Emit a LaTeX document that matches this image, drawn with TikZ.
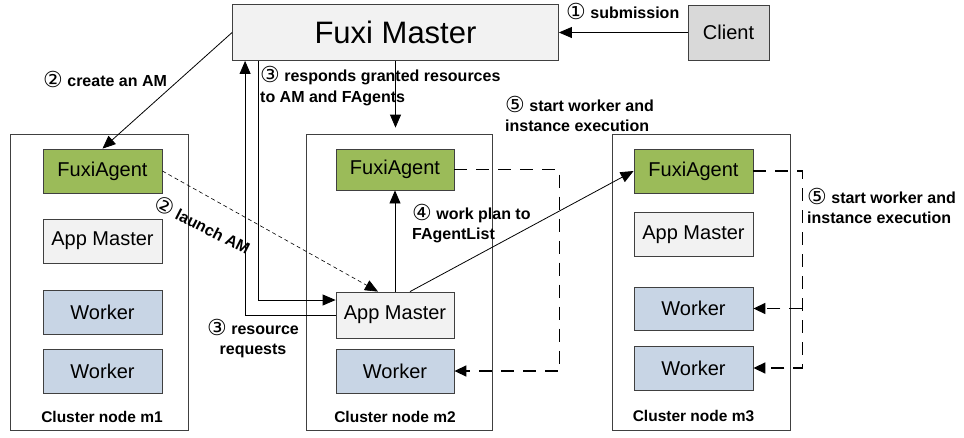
\documentclass[tikz,border=0pt]{standalone}
\usepackage{fontspec}
\setmainfont{Liberation Sans}
\newfontfamily\circfont{DejaVu Sans}
\usepackage{tikz}
\usetikzlibrary{positioning,calc,arrows.meta}

\definecolor{agentgreen}{HTML}{9BBB59}
\definecolor{workerblue}{HTML}{C8D5E5}
\definecolor{amgray}{HTML}{F2F2F2}
\definecolor{clientgray}{HTML}{D9D9D9}
\definecolor{edgegray}{HTML}{404040}

\newcommand{\cnum}[1]{\smash{\raisebox{-1pt}{\circfont\mdseries\fontsize{22}{20}\selectfont #1}}}

\begin{document}
\begin{tikzpicture}[x=1pt, y=-1pt,
        boxnode/.style={rectangle, draw=edgegray, line width=0.8pt, minimum width=119pt, minimum height=44pt, inner sep=0pt, font=\fontsize{20}{20}\selectfont},
        agentnode/.style={boxnode, fill=agentgreen},
        amnode/.style={boxnode, fill=amgray},
        workernode/.style={boxnode, fill=workerblue},
        clusternode/.style={rectangle, draw=edgegray, line width=0.8pt, minimum width=178pt, minimum height=296pt, inner sep=0pt},
        masternode/.style={rectangle, draw=edgegray, line width=0.8pt, fill=amgray, minimum width=326pt, minimum height=56pt, font=\fontsize{31}{31}\selectfont},
        clientnode/.style={rectangle, draw=edgegray, line width=0.8pt, fill=clientgray, minimum width=81pt, minimum height=55pt, font=\fontsize{20}{20}\selectfont},
        stepnote/.style={font=\bfseries\fontsize{16}{20.5}\selectfont, inner sep=0pt, align=left},
        clusterlabel/.style={font=\bfseries\fontsize{15.5}{15.5}\selectfont, inner sep=0pt},
        arr/.style={line width=0.8pt, -{Triangle[length=13pt, width=11pt]}},
        thindash/.style={arr, dash pattern=on 4pt off 3pt},
        thickdash/.style={line width=1.5pt, dash pattern=on 13pt off 9pt, -{Triangle[length=12pt, width=11pt]}},
    ]
    \useasboundingbox (0,0) rectangle (964,437);

    % Nodes
    \node[masternode] (master) at (395.5,32.5) {Fuxi Master};
    \node[clientnode] (client) at (728.5,32.5) {Client};

    \node[clusternode] (m1) at (99,282) {};
    \node[clusternode, minimum width=186pt] (m2) at (399,282) {};
    \node[clusternode] (m3) at (701,282) {};

    \node[agentnode] (fa1) at (102.5,171) {FuxiAgent};
    \node[amnode] (am1) at (102.5,241) {App Master};
    \node[workernode] (w11) at (102.5,312) {Worker};
    \node[workernode] (w12) at (102.5,371) {Worker};
    \node[clusterlabel] (l1) at (102,417) {Cluster node m1};

    \node[agentnode, minimum width=118pt, minimum height=41pt] (fa2) at (395,169.5) {FuxiAgent};
    \node[amnode, minimum width=118pt, minimum height=46pt] (am2) at (395,315) {App Master};
    \node[workernode, minimum width=118pt] (w2) at (395,371) {Worker};
    \node[clusterlabel] (l2) at (395,417) {Cluster node m2};

    \node[agentnode] (fa3) at (693.5,171) {FuxiAgent};
    \node[amnode] (am3) at (693.5,234.5) {App Master};
    \node[workernode, minimum height=43pt] (w31) at (693.5,308.5) {Worker};
    \node[workernode] (w32) at (693.5,368) {Worker};
    \node[clusterlabel] (l3) at (693.5,416) {Cluster node m3};

    % Edges
    \draw[arr] (client.west) -- (master.east);
    \draw[arr] (master.west) -- (fa1.north);
    \draw[arr] (am2.west) -| ($(master.south west)+(13,0)$);
    \draw[arr] ($(master.south west)+(26,0)$) |- ($(am2.west)+(0,-15)$);
    \draw[arr, shorten >=6pt] (master.south) -- (master.south |- m2.north);
    \draw[thindash, line width=0.6pt] (fa1.east) -- ($(am2.north)+(-17,0)$);
    \draw[arr] (am2.north) -- (fa2.south);
    \draw[arr] ($(am2.north)+(15,0)$) -- (fa3.west);

    \draw[thickdash] (fa2.east) -| ($(w2.east)+(105,0)$) -- (w2.east);
    \draw[thickdash] (fa3.east) -| ($(w32.east)+(49,0)$) -- (w32.east);
    \draw[thickdash] ($(w31.east)+(49,0)$) -- (w31.east);

    % Notes
    \node[stepnote, anchor=west] (n1) at (566,13) {\cnum{①} submission};
    \node[stepnote, anchor=west] (n2) at (43,81) {\cnum{②} create an AM};
    \node[stepnote, anchor=west] (n3) at (260,88) {\cnum{③} responds granted resources\\to AM and FAgents};
    \node[stepnote, rotate=-27] (n2b) at (202,226) {\cnum{②} launch AM};
    \node[stepnote, align=center] (n3b) at (253,342) {\cnum{③} resource\\requests};
    \node[stepnote, anchor=west] (n4) at (412,225.5) {\cnum{④} work plan to\\FAgentList};
    \node[stepnote, anchor=west] (n5) at (505,116) {\cnum{⑤} start worker and\\instance execution};
    \node[stepnote, anchor=west] (n5b) at (807,208) {\cnum{⑤} start worker and\\instance execution};
\end{tikzpicture}
\end{document}
